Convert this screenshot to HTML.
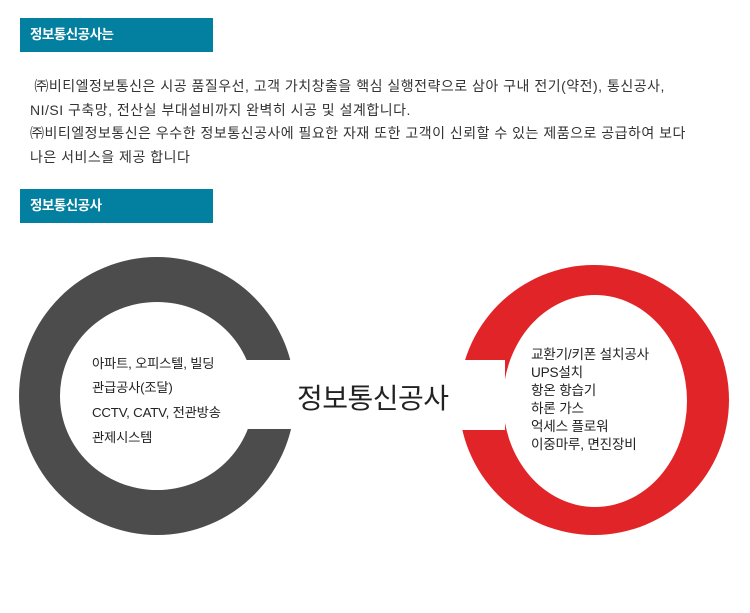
<!DOCTYPE html>
<html><head><meta charset="utf-8"><style>
body{margin:0;width:750px;height:613px;background:#fff;position:relative;overflow:hidden;font-family:"Liberation Sans","Noto Sans CJK KR",sans-serif;}
.hd{position:absolute;left:20px;width:193px;height:34px;background:#037fa0;color:#fff;font-weight:bold;font-size:13.5px;line-height:34px;padding-left:10px;box-sizing:border-box;letter-spacing:-0.5px}
.p{position:absolute;left:30px;top:75px;font-size:14px;line-height:23.7px;color:#333;letter-spacing:0.5px;white-space:nowrap}
.t{position:absolute;font-size:13.3px;color:#222;white-space:nowrap;letter-spacing:-0.2px}
.r{font-size:13.6px}
</style></head><body>
<div class="hd" style="top:18px">정보통신공사는</div>
<div class="p">&nbsp;㈜비티엘정보통신은 시공 품질우선, 고객 가치창출을 핵심 실행전략으로 삼아 구내 전기(약전), 통신공사,<br>NI/SI 구축망, 전산실 부대설비까지 완벽히 시공 및 설계합니다.<br>㈜비티엘정보통신은 우수한 정보통신공사에 필요한 자재 또한 고객이 신뢰할 수 있는 제품으로 공급하여 보다<br>나은 서비스을 제공 합니다</div>
<div class="hd" style="top:189px">정보통신공사</div>
<svg width="750" height="613" style="position:absolute;left:0;top:0">
<defs>
<mask id="ml"><rect width="750" height="613" fill="#fff"/><rect x="245" y="360" width="60" height="69" fill="#000"/></mask>
<mask id="mr"><rect width="750" height="613" fill="#fff"/><rect x="440" y="360" width="65" height="70" fill="#000"/></mask>
</defs>
<path mask="url(#ml)" fill="#4d4c4d" fill-rule="evenodd" d="M19,396 a138,139 0 1,0 276,0 a138,139 0 1,0 -276,0 Z M60,396 a97,94 0 1,0 194,0 a97,94 0 1,0 -194,0 Z"/>
<path mask="url(#mr)" fill="#e12428" fill-rule="evenodd" d="M459,400 a135,135 0 1,0 270,0 a135,135 0 1,0 -270,0 Z M503,401 a92,106 0 1,0 184,0 a92,106 0 1,0 -184,0 Z"/>
</svg>
<div class="t" style="left:92px;top:353px">아파트, 오피스텔, 빌딩</div>
<div class="t" style="left:92px;top:377px">관급공사(조달)</div>
<div class="t" style="left:92px;top:402px">CCTV, CATV, 전관방송</div>
<div class="t" style="left:92px;top:427px">관제시스템</div>
<div style="position:absolute;left:297px;top:377px;font-size:28px;color:#222;letter-spacing:-0.5px">정보통신공사</div>
<div class="t r" style="left:531px;top:343px">교환기/키폰 설치공사</div>
<div class="t r" style="left:531px;top:361px">UPS설치</div>
<div class="t r" style="left:531px;top:379px">항온 항습기</div>
<div class="t r" style="left:531px;top:397px">하론 가스</div>
<div class="t r" style="left:531px;top:415px">억세스 플로워</div>
<div class="t r" style="left:531px;top:433px">이중마루, 면진장비</div>
</body></html>
